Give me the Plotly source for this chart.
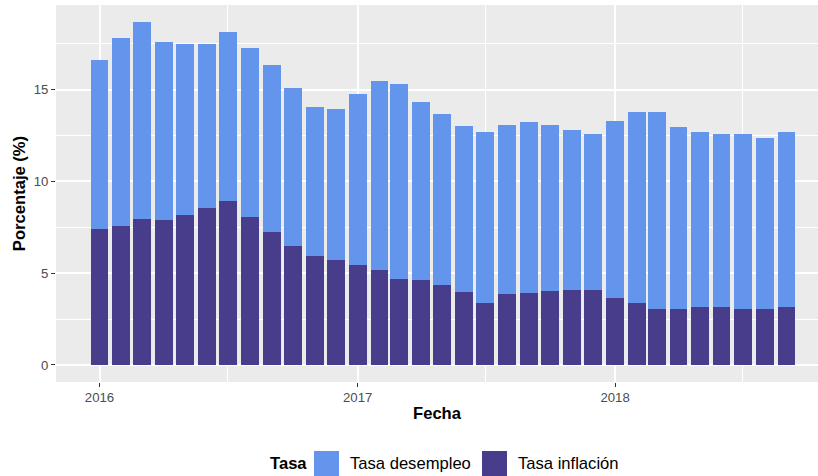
import plotly.graph_objects as go
import pandas as pd

fechas = pd.date_range("2016-01-01", "2018-09-01", freq="MS")

tasa_inflacion = [7.41, 7.57, 7.96, 7.90, 8.17, 8.56, 8.94, 8.07, 7.25, 6.49, 5.94, 5.72,
                  5.45, 5.18, 4.69, 4.63, 4.36, 3.98, 3.38, 3.87, 3.92, 4.03, 4.09, 4.09,
                  3.65, 3.38, 3.05, 3.05, 3.16, 3.16, 3.05, 3.05, 3.16]

tasa_desempleo = [9.21, 10.25, 10.73, 9.70, 9.32, 8.93, 9.21, 9.21, 9.10, 8.61, 8.12, 8.23,
                  9.32, 10.30, 10.62, 9.70, 9.32, 9.04, 9.32, 9.21, 9.32, 9.05, 8.72, 8.50,
                  9.65, 10.41, 10.74, 9.92, 9.54, 9.43, 9.54, 9.32, 9.54]

x_ticks = ["2016-01-01", "2017-01-01", "2018-01-01"]
x_tick_labels = ["2016", "2017", "2018"]
x_minor = ["2016-07-01", "2017-07-01", "2018-07-01"]
y_ticks = [0, 5, 10, 15]
y_minor = [2.5, 7.5, 12.5, 17.5]

COL_DES = "#6495ED"
COL_INF = "#483D8B"

DAY_MS = 86400000
bar_width = 25.2 * DAY_MS

W, H = 818, 476
ML, MR, MT, MB = 56, 0, 5, 94
PW, PH = W - ML - MR, H - MT - MB

def px(x):
    return (x - ML) / PW

def py(y):
    return (H - MB - y) / PH

fig = go.Figure()
fig.add_trace(go.Bar(x=fechas, y=tasa_inflacion, name="Tasa inflación",
                     marker=dict(color=COL_INF, line=dict(width=0)),
                     width=bar_width, showlegend=False))
fig.add_trace(go.Bar(x=fechas, y=tasa_desempleo, name="Tasa desempleo",
                     marker=dict(color=COL_DES, line=dict(width=0)),
                     width=bar_width, showlegend=False))

start = pd.Timestamp("2016-01-01")
x0 = start - pd.Timedelta(days=61.7)
x1 = start + pd.Timedelta(days=1018.7)

FONT = "Liberation Sans, Arial, Helvetica, sans-serif"

# manual legend (ggplot style, large keys)
legend_items = [("Tasa desempleo", COL_DES, 314, 348), ("Tasa inflación", COL_INF, 482, 516)]
shapes = []
annotations = [dict(text="<b>Tasa</b>", xref="paper", yref="paper", x=px(268), y=py(463),
                    xanchor="left", yanchor="middle", showarrow=False,
                    font=dict(size=16.6, color="black", family=FONT))]
for label, col, kx, tx in legend_items:
    shapes.append(dict(type="rect", xref="paper", yref="paper",
                       x0=px(kx), x1=px(kx + 25), y0=py(451), y1=py(476),
                       fillcolor=col, line=dict(width=0)))
    annotations.append(dict(text=label, xref="paper", yref="paper", x=px(tx), y=py(463),
                            xanchor="left", yanchor="middle", showarrow=False,
                            font=dict(size=16.6, color="black", family=FONT)))

fig.update_layout(
    barmode="stack",
    width=W, height=H,
    margin=dict(l=ML, r=MR, t=MT, b=MB, pad=0),
    paper_bgcolor="white",
    plot_bgcolor="#EBEBEB",
    font=dict(family=FONT, color="black"),
    showlegend=False,
    shapes=shapes,
    annotations=annotations,
    xaxis=dict(
        type="date", range=[x0, x1], automargin=False,
        tickmode="array", tickvals=x_ticks, ticktext=x_tick_labels,
        ticks="outside", ticklen=4, tickcolor="#333333", tickwidth=1,
        tickfont=dict(size=13.2, color="#4D4D4D"), ticklabelstandoff=-1,
        showgrid=True, gridcolor="white", gridwidth=2,
        minor=dict(tickvals=x_minor, showgrid=True, gridcolor="white", gridwidth=1, ticks=""),
        zeroline=False, showline=False,
        title=dict(text="<b>Fecha</b>", font=dict(size=16.6, color="black"), standoff=3),
    ),
    yaxis=dict(
        range=[-0.93, 19.62], automargin=False,
        tickmode="array", tickvals=y_ticks,
        ticks="outside", ticklen=4, tickcolor="#333333", tickwidth=1,
        tickfont=dict(size=13.2, color="#4D4D4D"),
        showgrid=True, gridcolor="white", gridwidth=2,
        minor=dict(tickvals=y_minor, showgrid=True, gridcolor="white", gridwidth=1, ticks=""),
        zeroline=False, showline=False,
        title=dict(text="<b>Porcentaje (%)</b>", font=dict(size=16.6, color="black"), standoff=3),
    ),
)

fig.write_html(
    "out.html",
    config={"displayModeBar": False},
    post_script="document.body.style.margin='0';document.body.style.overflow='hidden';",
)
